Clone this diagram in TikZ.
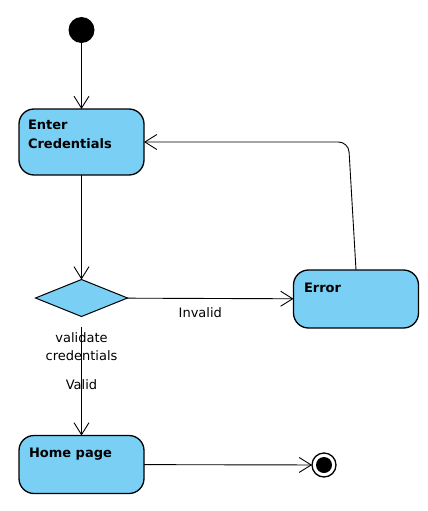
\documentclass[tikz,border=0pt]{standalone}
\usepackage{fontspec}
\setmainfont{DejaVu Sans}
\usetikzlibrary{positioning,shapes.geometric,arrows.meta}
\definecolor{statefill}{RGB}{122,207,245}

\begin{document}
\begin{tikzpicture}[x=1pt, y=-1pt,
  every node/.style={inner sep=0pt, outer sep=0pt, font=\fontsize{13}{18}\selectfont},
  state/.style={draw, line width=1.3pt, fill=statefill, rounded corners=15pt,
    minimum width=125pt, minimum height=58pt},
  statename/.style={anchor=north west, align=left, font=\fontsize{13}{19}\selectfont\bfseries},
  flow/.style={line width=0.9pt, -{Straight Barb[length=12pt, width=15pt]}}]
  \useasboundingbox (0,0) rectangle (428,511);
  % states
  \node[circle, fill=black, minimum size=26pt] (init) at (81.5,30) {};
  \node[state, minimum height=66pt] (enter) at (81.5,142) {};
  \node[statename] (entername) at (28,120.5) {Enter\\Credentials};
  \node[diamond, draw, line width=1pt, fill=statefill, minimum width=92pt, minimum height=37pt] (check) at (81.5,298) {};
  \node[align=center, below=16pt of check] (checkname) {validate\\credentials};
  \node[state] (error) at (356,299) {};
  \node[statename] (errorname) at (304,282.7) {Error};
  \node[state] (home) at (81.5,464.5) {};
  \node[statename] (homename) at (29,448) {Home page};
  \node[circle, draw, line width=1.3pt, minimum size=24pt,
    path picture={\fill (path picture bounding box.center) circle (8pt);}] (final) at (324,465) {};
  \coordinate (bend) at (348.5,142);
  % transitions
  \draw[flow] (init) -- (enter);
  \draw[flow] (enter) -- (check);
  \draw[flow] (check) -- (error) node[pos=0.44, below=9pt] (invalid) {Invalid};
  \draw[flow, shorten <=10pt] (check) -- (home) node[pos=0.57] (valid) {Valid};
  \draw[flow] (home) -- (final);
  \draw[flow, rounded corners=10pt] (error.north) -- (bend) -- (enter.east);
\end{tikzpicture}
\end{document}
